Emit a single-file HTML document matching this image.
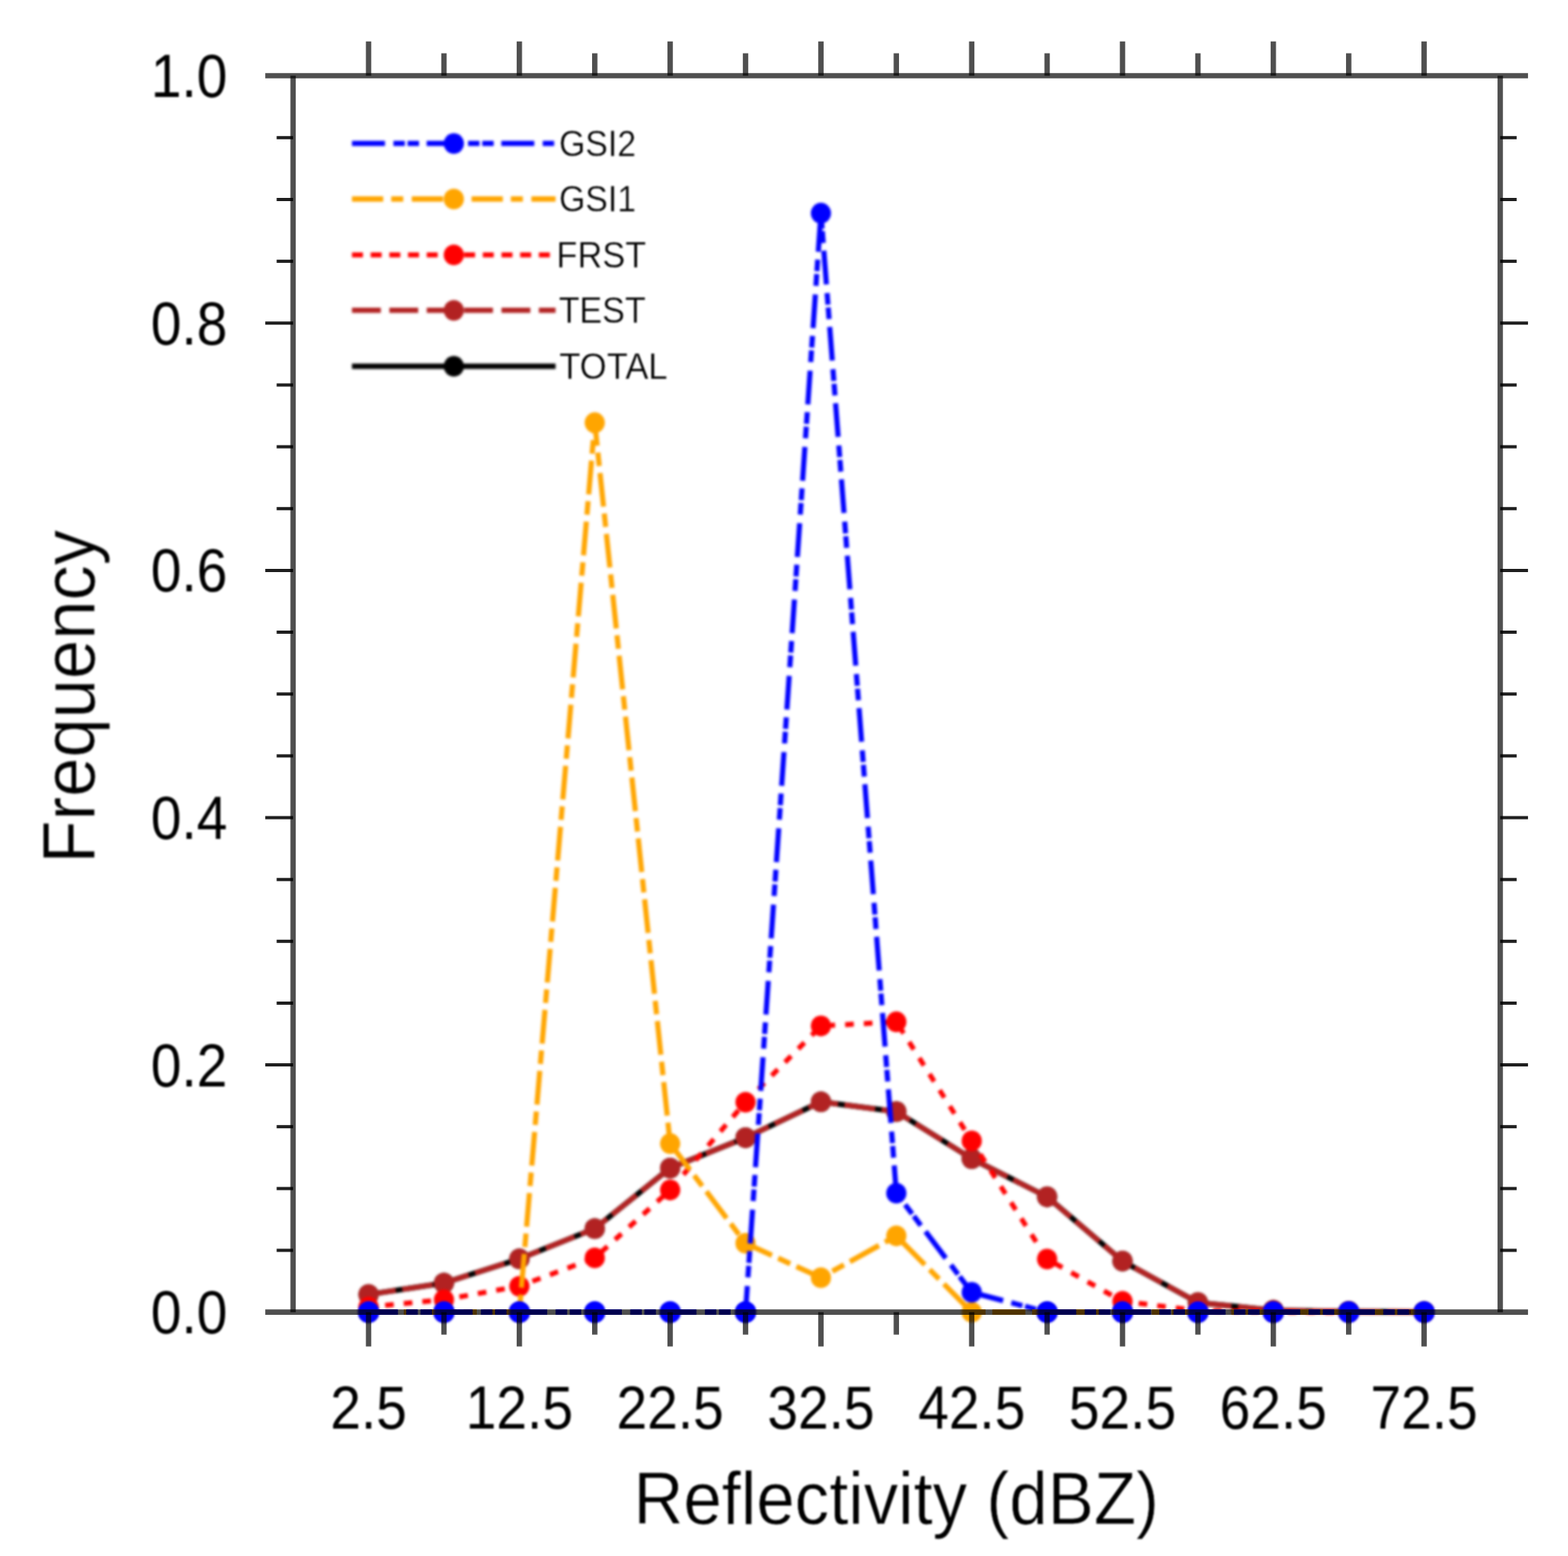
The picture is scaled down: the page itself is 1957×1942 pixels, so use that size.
<!DOCTYPE html>
<html lang="en">
<head>
<meta charset="utf-8">
<title>Reflectivity frequency</title>
<style>
html,body{margin:0;padding:0;background:#fff;}
body{width:1957px;height:1942px;overflow:hidden;}
svg{display:block;}
text{font-family:"Liberation Sans",sans-serif;fill:#000;}
</style>
</head>
<body>
<svg width="1957" height="1942" viewBox="0 0 1957 1942">
<defs><filter id="soft" color-interpolation-filters="sRGB" filterUnits="userSpaceOnUse" x="0" y="0" width="1957" height="1942"><feGaussianBlur stdDeviation="0.9"/><feGaussianBlur stdDeviation="0.9"/></filter><filter id="soft1" color-interpolation-filters="sRGB" filterUnits="userSpaceOnUse" x="0" y="0" width="1957" height="1942"><feGaussianBlur stdDeviation="0.9"/></filter></defs>
<rect width="1957" height="1942" fill="#fff"/>
<g filter="url(#soft)">
<g transform="scale(1 1.0243)" fill="none" stroke-width="6.7" stroke-linejoin="round">
<polyline points="460.0,1577.3 554.1,1563.3 648.2,1533.9 742.3,1497.0 836.4,1423.2 930.5,1386.3 1024.6,1342.5 1118.7,1354.5 1212.8,1411.8 1306.9,1458.3 1401.0,1536.6 1495.1,1587.1 1589.2,1596.6 1683.3,1598.1 1777.4,1598.5" stroke="#000000"/>
<g fill="#000000" stroke="none"><circle cx="460.0" cy="1577.3" r="12.6"/><circle cx="554.1" cy="1563.3" r="12.6"/><circle cx="648.2" cy="1533.9" r="12.6"/><circle cx="742.3" cy="1497.0" r="12.6"/><circle cx="836.4" cy="1423.2" r="12.6"/><circle cx="930.5" cy="1386.3" r="12.6"/><circle cx="1024.6" cy="1342.5" r="12.6"/><circle cx="1118.7" cy="1354.5" r="12.6"/><circle cx="1212.8" cy="1411.8" r="12.6"/><circle cx="1306.9" cy="1458.3" r="12.6"/><circle cx="1401.0" cy="1536.6" r="12.6"/><circle cx="1495.1" cy="1587.1" r="12.6"/><circle cx="1589.2" cy="1596.6" r="12.6"/><circle cx="1683.3" cy="1598.1" r="12.6"/><circle cx="1777.4" cy="1598.5" r="12.6"/></g>
<polyline points="460.0,1577.3 554.1,1563.3 648.2,1533.9 742.3,1497.0 836.4,1423.2 930.5,1386.3 1024.6,1342.5 1118.7,1354.5 1212.8,1411.8 1306.9,1458.3 1401.0,1536.6 1495.1,1587.1 1589.2,1596.6 1683.3,1598.1 1777.4,1598.5" stroke="#b22222" stroke-dasharray="38.4 8.25" stroke-dashoffset="4.10" stroke-width="6.4"/>
<g fill="#b22222" stroke="none"><circle cx="460.0" cy="1577.3" r="12.6"/><circle cx="554.1" cy="1563.3" r="12.6"/><circle cx="648.2" cy="1533.9" r="12.6"/><circle cx="742.3" cy="1497.0" r="12.6"/><circle cx="836.4" cy="1423.2" r="12.6"/><circle cx="930.5" cy="1386.3" r="12.6"/><circle cx="1024.6" cy="1342.5" r="12.6"/><circle cx="1118.7" cy="1354.5" r="12.6"/><circle cx="1212.8" cy="1411.8" r="12.6"/><circle cx="1306.9" cy="1458.3" r="12.6"/><circle cx="1401.0" cy="1536.6" r="12.6"/><circle cx="1495.1" cy="1587.1" r="12.6"/><circle cx="1589.2" cy="1596.6" r="12.6"/><circle cx="1683.3" cy="1598.1" r="12.6"/><circle cx="1777.4" cy="1598.5" r="12.6"/></g>
<polyline points="460.0,1592.5 554.1,1583.6 648.2,1567.2 742.3,1532.7 836.4,1450.0 930.5,1342.9 1024.6,1250.1 1118.7,1245.0 1212.8,1390.1 1306.9,1534.1 1401.0,1585.6 1495.1,1597.0 1589.2,1598.4 1683.3,1598.8" stroke="#ff0000" stroke-dasharray="10.8 12.525" stroke-dashoffset="2.55" stroke-width="6.1"/>
<g fill="#ff0000" stroke="none"><circle cx="460.0" cy="1592.5" r="12.6"/><circle cx="554.1" cy="1583.6" r="12.6"/><circle cx="648.2" cy="1567.2" r="12.6"/><circle cx="742.3" cy="1532.7" r="12.6"/><circle cx="836.4" cy="1450.0" r="12.6"/><circle cx="930.5" cy="1342.9" r="12.6"/><circle cx="1024.6" cy="1250.1" r="12.6"/><circle cx="1118.7" cy="1245.0" r="12.6"/><circle cx="1212.8" cy="1390.1" r="12.6"/><circle cx="1306.9" cy="1534.1" r="12.6"/><circle cx="1401.0" cy="1585.6" r="12.6"/><circle cx="1495.1" cy="1597.0" r="12.6"/><circle cx="1589.2" cy="1598.4" r="12.6"/><circle cx="1683.3" cy="1598.8" r="12.6"/><circle cx="1777.4" cy="1598.8" r="12.6"/></g>
<polyline points="648.2,1598.8 742.3,515.0 836.4,1393.4 930.5,1514.9 1024.6,1556.8 1118.7,1505.9 1212.8,1598.8" stroke="#ffa500" stroke-dasharray="41.2 8.5 16.5 8.44" stroke-dashoffset="194.00" stroke-width="6.4"/>
<g fill="#ffa500" stroke="none"><circle cx="460.0" cy="1598.8" r="12.6"/><circle cx="554.1" cy="1598.8" r="12.6"/><circle cx="648.2" cy="1598.8" r="12.6"/><circle cx="742.3" cy="515.0" r="12.6"/><circle cx="836.4" cy="1393.4" r="12.6"/><circle cx="930.5" cy="1514.9" r="12.6"/><circle cx="1024.6" cy="1556.8" r="12.6"/><circle cx="1118.7" cy="1505.9" r="12.6"/><circle cx="1212.8" cy="1598.8" r="12.6"/><circle cx="1306.9" cy="1598.8" r="12.6"/><circle cx="1401.0" cy="1598.8" r="12.6"/><circle cx="1495.1" cy="1598.8" r="12.6"/><circle cx="1589.2" cy="1598.8" r="12.6"/><circle cx="1683.3" cy="1598.8" r="12.6"/><circle cx="1777.4" cy="1598.8" r="12.6"/></g>
<polyline points="930.5,1598.8 1024.6,259.7 1118.7,1453.8 1212.8,1574.7 1306.9,1598.8" stroke="#0000ff" stroke-dasharray="41.2 10.5 14.3 3.4 14.3 9.47" stroke-dashoffset="475.10" stroke-width="6.4"/>
<g fill="#0000ff" stroke="none"><circle cx="460.0" cy="1598.8" r="12.6"/><circle cx="554.1" cy="1598.8" r="12.6"/><circle cx="648.2" cy="1598.8" r="12.6"/><circle cx="742.3" cy="1598.8" r="12.6"/><circle cx="836.4" cy="1598.8" r="12.6"/><circle cx="930.5" cy="1598.8" r="12.6"/><circle cx="1024.6" cy="259.7" r="12.6"/><circle cx="1118.7" cy="1453.8" r="12.6"/><circle cx="1212.8" cy="1574.7" r="12.6"/><circle cx="1306.9" cy="1598.8" r="12.6"/><circle cx="1401.0" cy="1598.8" r="12.6"/><circle cx="1495.1" cy="1598.8" r="12.6"/><circle cx="1589.2" cy="1598.8" r="12.6"/><circle cx="1683.3" cy="1598.8" r="12.6"/><circle cx="1777.4" cy="1598.8" r="12.6"/></g>
<line x1="439.3" y1="174.8" x2="693.4" y2="174.8" stroke="#0000ff" stroke-dasharray="41.2 10.5 14.3 3.4 14.3 9.47" stroke-width="6.4"/><circle cx="566.4" cy="174.8" r="12.6" fill="#0000ff" stroke="none"/>
<line x1="439.3" y1="242.5" x2="693.4" y2="242.5" stroke="#ffa500" stroke-dasharray="39 10 15 10.64" stroke-width="6.4"/><circle cx="566.4" cy="242.5" r="12.6" fill="#ffa500" stroke="none"/>
<line x1="439.3" y1="310.6" x2="693.4" y2="310.6" stroke="#ff0000" stroke-dasharray="13.7 9.625" stroke-width="6.3"/><circle cx="566.4" cy="310.6" r="12.6" fill="#ff0000" stroke="none"/>
<line x1="439.3" y1="378.1" x2="693.4" y2="378.1" stroke="#b22222" stroke-dasharray="36 10.65" stroke-width="6.4"/><circle cx="566.4" cy="378.1" r="12.6" fill="#b22222" stroke="none"/>
<line x1="439.3" y1="446.3" x2="693.4" y2="446.3" stroke="#000000"/><circle cx="566.4" cy="446.3" r="12.6" fill="#000000" stroke="none"/>
</g>
</g>
<g transform="scale(1 1.0243)" fill="none" stroke-width="6.7">
<polyline points="1683.3,1598.8 1777.4,1598.8" stroke="#ff0000" stroke-dasharray="10.8 12.525" stroke-dashoffset="1522.28" stroke-width="6.1"/>
<polyline points="460.0,1598.8 554.1,1598.8 648.2,1598.8" stroke="#ffa500" stroke-dasharray="41.2 8.5 16.5 8.44" stroke-dashoffset="5.80" stroke-width="6.4"/>
<polyline points="1212.8,1598.8 1306.9,1598.8 1401.0,1598.8 1495.1,1598.8 1589.2,1598.8 1683.3,1598.8 1777.4,1598.8" stroke="#ffa500" stroke-dasharray="41.2 8.5 16.5 8.44" stroke-dashoffset="2661.32" stroke-width="6.4"/>
<polyline points="460.0,1598.8 554.1,1598.8 648.2,1598.8 742.3,1598.8 836.4,1598.8 930.5,1598.8" stroke="#0000ff" stroke-dasharray="41.2 10.5 14.3 3.4 14.3 9.47" stroke-dashoffset="4.60" stroke-width="6.4"/>
<polyline points="1306.9,1598.8 1401.0,1598.8 1495.1,1598.8 1589.2,1598.8 1683.3,1598.8 1777.4,1598.8" stroke="#0000ff" stroke-dasharray="41.2 10.5 14.3 3.4 14.3 9.47" stroke-dashoffset="3265.80" stroke-width="6.4"/>
</g>
<g filter="url(#soft)"><g transform="scale(1 1.0243)" fill="#0000ff"><circle cx="460.0" cy="1598.8" r="12.6"/><circle cx="554.1" cy="1598.8" r="12.6"/><circle cx="648.2" cy="1598.8" r="12.6"/><circle cx="742.3" cy="1598.8" r="12.6"/><circle cx="836.4" cy="1598.8" r="12.6"/><circle cx="930.5" cy="1598.8" r="12.6"/><circle cx="1306.9" cy="1598.8" r="12.6"/><circle cx="1401.0" cy="1598.8" r="12.6"/><circle cx="1495.1" cy="1598.8" r="12.6"/><circle cx="1589.2" cy="1598.8" r="12.6"/><circle cx="1683.3" cy="1598.8" r="12.6"/><circle cx="1777.4" cy="1598.8" r="12.6"/></g></g>
<g stroke="rgba(0,0,0,0.69)" stroke-width="6.7" fill="none">
<line x1="331.1" y1="94.5" x2="1907.1" y2="94.5"/>
<line x1="331.1" y1="1637.7" x2="1907.1" y2="1637.7"/>
<line x1="365.8" y1="94.5" x2="365.8" y2="1637.7"/>
<line x1="1872.4" y1="94.5" x2="1872.4" y2="1637.7"/>
<line x1="460.0" y1="94.5" x2="460.0" y2="51.7"/><line x1="460.0" y1="1637.7" x2="460.0" y2="1680.5"/>
<line x1="554.1" y1="94.5" x2="554.1" y2="66.5"/><line x1="554.1" y1="1637.7" x2="554.1" y2="1665.7"/>
<line x1="648.2" y1="94.5" x2="648.2" y2="51.7"/><line x1="648.2" y1="1637.7" x2="648.2" y2="1680.5"/>
<line x1="742.3" y1="94.5" x2="742.3" y2="66.5"/><line x1="742.3" y1="1637.7" x2="742.3" y2="1665.7"/>
<line x1="836.4" y1="94.5" x2="836.4" y2="51.7"/><line x1="836.4" y1="1637.7" x2="836.4" y2="1680.5"/>
<line x1="930.5" y1="94.5" x2="930.5" y2="66.5"/><line x1="930.5" y1="1637.7" x2="930.5" y2="1665.7"/>
<line x1="1024.6" y1="94.5" x2="1024.6" y2="51.7"/><line x1="1024.6" y1="1637.7" x2="1024.6" y2="1680.5"/>
<line x1="1118.7" y1="94.5" x2="1118.7" y2="66.5"/><line x1="1118.7" y1="1637.7" x2="1118.7" y2="1665.7"/>
<line x1="1212.8" y1="94.5" x2="1212.8" y2="51.7"/><line x1="1212.8" y1="1637.7" x2="1212.8" y2="1680.5"/>
<line x1="1306.9" y1="94.5" x2="1306.9" y2="66.5"/><line x1="1306.9" y1="1637.7" x2="1306.9" y2="1665.7"/>
<line x1="1401.0" y1="94.5" x2="1401.0" y2="51.7"/><line x1="1401.0" y1="1637.7" x2="1401.0" y2="1680.5"/>
<line x1="1495.1" y1="94.5" x2="1495.1" y2="66.5"/><line x1="1495.1" y1="1637.7" x2="1495.1" y2="1665.7"/>
<line x1="1589.2" y1="94.5" x2="1589.2" y2="51.7"/><line x1="1589.2" y1="1637.7" x2="1589.2" y2="1680.5"/>
<line x1="1683.3" y1="94.5" x2="1683.3" y2="66.5"/><line x1="1683.3" y1="1637.7" x2="1683.3" y2="1665.7"/>
<line x1="1777.4" y1="94.5" x2="1777.4" y2="51.7"/><line x1="1777.4" y1="1637.7" x2="1777.4" y2="1680.5"/>
</g>
<g stroke="rgba(0,0,0,0.88)" stroke-width="4" fill="none">
<line x1="365.8" y1="1560.5" x2="345.3" y2="1560.5"/><line x1="1872.4" y1="1560.5" x2="1892.9" y2="1560.5"/>
<line x1="365.8" y1="1483.4" x2="345.3" y2="1483.4"/><line x1="1872.4" y1="1483.4" x2="1892.9" y2="1483.4"/>
<line x1="365.8" y1="1406.2" x2="345.3" y2="1406.2"/><line x1="1872.4" y1="1406.2" x2="1892.9" y2="1406.2"/>
<line x1="365.8" y1="1329.1" x2="331.1" y2="1329.1"/><line x1="1872.4" y1="1329.1" x2="1907.1" y2="1329.1"/>
<line x1="365.8" y1="1252.0" x2="345.3" y2="1252.0"/><line x1="1872.4" y1="1252.0" x2="1892.9" y2="1252.0"/>
<line x1="365.8" y1="1174.8" x2="345.3" y2="1174.8"/><line x1="1872.4" y1="1174.8" x2="1892.9" y2="1174.8"/>
<line x1="365.8" y1="1097.7" x2="345.3" y2="1097.7"/><line x1="1872.4" y1="1097.7" x2="1892.9" y2="1097.7"/>
<line x1="365.8" y1="1020.5" x2="331.1" y2="1020.5"/><line x1="1872.4" y1="1020.5" x2="1907.1" y2="1020.5"/>
<line x1="365.8" y1="943.4" x2="345.3" y2="943.4"/><line x1="1872.4" y1="943.4" x2="1892.9" y2="943.4"/>
<line x1="365.8" y1="866.2" x2="345.3" y2="866.2"/><line x1="1872.4" y1="866.2" x2="1892.9" y2="866.2"/>
<line x1="365.8" y1="789.0" x2="345.3" y2="789.0"/><line x1="1872.4" y1="789.0" x2="1892.9" y2="789.0"/>
<line x1="365.8" y1="711.9" x2="331.1" y2="711.9"/><line x1="1872.4" y1="711.9" x2="1907.1" y2="711.9"/>
<line x1="365.8" y1="634.8" x2="345.3" y2="634.8"/><line x1="1872.4" y1="634.8" x2="1892.9" y2="634.8"/>
<line x1="365.8" y1="557.6" x2="345.3" y2="557.6"/><line x1="1872.4" y1="557.6" x2="1892.9" y2="557.6"/>
<line x1="365.8" y1="480.5" x2="345.3" y2="480.5"/><line x1="1872.4" y1="480.5" x2="1892.9" y2="480.5"/>
<line x1="365.8" y1="403.3" x2="331.1" y2="403.3"/><line x1="1872.4" y1="403.3" x2="1907.1" y2="403.3"/>
<line x1="365.8" y1="326.1" x2="345.3" y2="326.1"/><line x1="1872.4" y1="326.1" x2="1892.9" y2="326.1"/>
<line x1="365.8" y1="249.0" x2="345.3" y2="249.0"/><line x1="1872.4" y1="249.0" x2="1892.9" y2="249.0"/>
<line x1="365.8" y1="171.8" x2="345.3" y2="171.8"/><line x1="1872.4" y1="171.8" x2="1892.9" y2="171.8"/>
</g>
<g filter="url(#soft1)">
<g font-size="72" >
<text transform="translate(283.8,1664.3) scale(0.955,1.055)" text-anchor="end">0.0</text>
<text transform="translate(283.8,1355.7) scale(0.955,1.055)" text-anchor="end">0.2</text>
<text transform="translate(283.8,1047.1) scale(0.955,1.055)" text-anchor="end">0.4</text>
<text transform="translate(283.8,738.5) scale(0.955,1.055)" text-anchor="end">0.6</text>
<text transform="translate(283.8,429.9) scale(0.955,1.055)" text-anchor="end">0.8</text>
<text transform="translate(283.8,121.3) scale(0.955,1.055)" text-anchor="end">1.0</text>
<text transform="translate(460.0,1782.6) scale(0.955,1.055)" text-anchor="middle">2.5</text>
<text transform="translate(648.2,1782.6) scale(0.955,1.055)" text-anchor="middle">12.5</text>
<text transform="translate(836.4,1782.6) scale(0.955,1.055)" text-anchor="middle">22.5</text>
<text transform="translate(1024.6,1782.6) scale(0.955,1.055)" text-anchor="middle">32.5</text>
<text transform="translate(1212.8,1782.6) scale(0.955,1.055)" text-anchor="middle">42.5</text>
<text transform="translate(1401.0,1782.6) scale(0.955,1.055)" text-anchor="middle">52.5</text>
<text transform="translate(1589.2,1782.6) scale(0.955,1.055)" text-anchor="middle">62.5</text>
<text transform="translate(1777.4,1782.6) scale(0.955,1.055)" text-anchor="middle">72.5</text>
</g>
<text font-size="89" stroke="#fff" stroke-width="0.7" transform="translate(1118.6,1902.0) scale(0.968,1.05)" text-anchor="middle">Reflectivity (dBZ)</text>
<text font-size="89" stroke="#fff" stroke-width="0.7" transform="translate(118.3,869.6) rotate(-90) scale(0.99,1.04)" text-anchor="middle">Frequency</text>
<g font-size="44.5" stroke="#fff" stroke-width="0.4">
<text transform="translate(697.8,194.8) scale(0.947,1.05)">GSI2</text>
<text transform="translate(697.8,264.2) scale(0.947,1.05)">GSI1</text>
<text transform="translate(694.6,333.9) scale(0.962,1.05)">FRST</text>
<text transform="translate(697.2,403.1) scale(0.957,1.05)">TEST</text>
<text transform="translate(697.9,472.9) scale(0.973,1.05)">TOTAL</text>
</g>
</g>
</svg>
</body>
</html>
